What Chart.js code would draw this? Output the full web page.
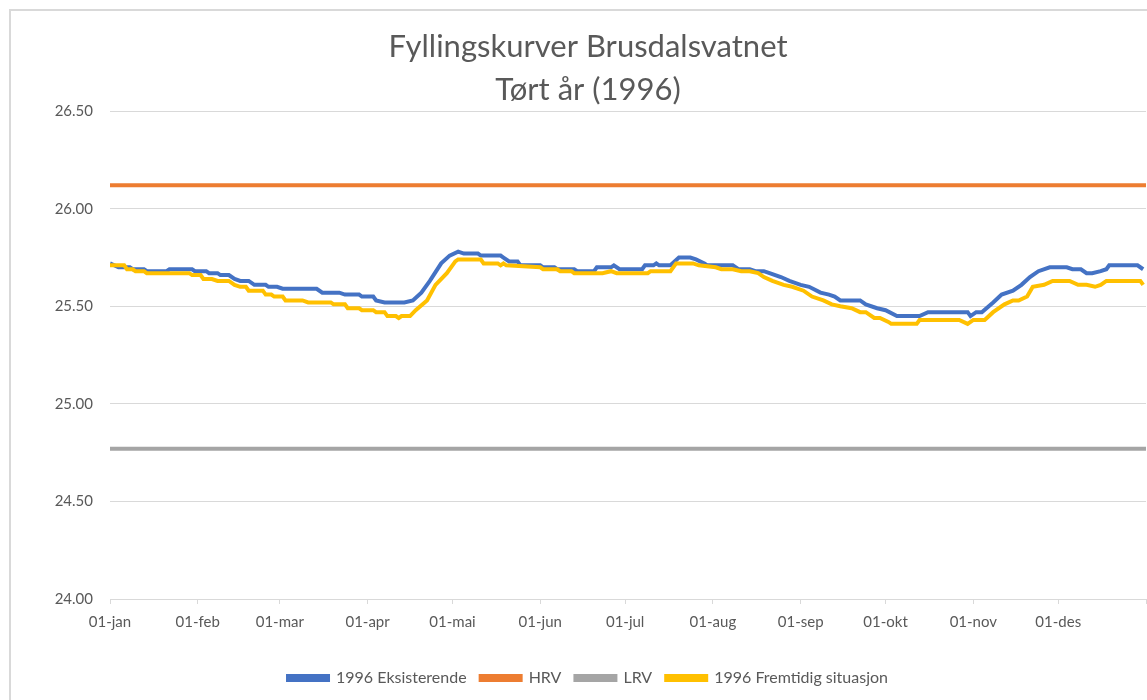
<!DOCTYPE html>
<html>
<head>
<meta charset="utf-8">
<script src="https://cdn.jsdelivr.net/npm/chart.js@4.4.1/dist/chart.umd.min.js"></script>
<style>
  html, body { margin: 0; padding: 0; background: #fff; overflow: hidden; }
  #frame { position: absolute; left: 9px; top: 9px; width: 1200px; height: 800px; border: 2px solid #d9d9d9; }
  #wrap { position: absolute; left: 0; top: 0; width: 1170px; height: 700px; }
</style>
</head>
<body>
<div id="frame"></div>
<div id="wrap"><canvas id="fyllingChart"></canvas></div>
<script>
// x axis: day of year 1996 (leap year), ticks at first of each month
const monthLabels = ['01-jan', '01-feb', '01-mar', '01-apr', '01-mai', '01-jun', '01-jul', '01-aug', '01-sep', '01-okt', '01-nov', '01-des', ''];
const monthStartDays = [0, 31, 60, 91, 121, 152, 182, 213, 244, 274, 305, 335, 366];

// 1996 Eksisterende
const eksDays = [0, 3, 7, 8, 12, 13, 20, 21, 29, 30, 34, 35, 38, 39, 42, 44, 46, 49, 51, 55, 56, 59, 61, 73, 75, 81, 83, 88, 89, 93,
  94, 97, 104, 107, 110, 113, 117, 120, 123, 125, 130, 131, 138, 139, 141, 144, 145, 152, 153, 157, 158, 164, 165, 171, 172, 177, 178, 180, 188, 189,
  192, 193, 194, 198, 201, 205, 207, 210, 211, 220, 222, 226, 228, 231, 233, 237, 240, 244, 247, 251, 254, 256, 258, 265, 267, 271, 274, 278, 286, 289,
  303, 304, 306, 308, 312, 315, 319, 322, 325, 328, 332, 338, 340, 343, 345, 347, 350, 352, 353, 363, 365];
const eksLevels = [25.72, 25.70, 25.70, 25.69, 25.69, 25.68, 25.68, 25.69, 25.69, 25.68, 25.68, 25.67, 25.67, 25.66, 25.66, 25.64, 25.63, 25.63, 25.61, 25.61, 25.60, 25.60, 25.59, 25.59, 25.57, 25.57, 25.56, 25.56, 25.55, 25.55,
  25.53, 25.52, 25.52, 25.53, 25.57, 25.63, 25.72, 25.76, 25.78, 25.77, 25.77, 25.76, 25.76, 25.75, 25.73, 25.73, 25.71, 25.71, 25.70, 25.70, 25.69, 25.69, 25.68, 25.68, 25.70, 25.70, 25.71, 25.69, 25.69, 25.71,
  25.71, 25.72, 25.71, 25.71, 25.75, 25.75, 25.74, 25.72, 25.71, 25.71, 25.69, 25.69, 25.68, 25.68, 25.67, 25.65, 25.63, 25.61, 25.60, 25.57, 25.56, 25.55, 25.53, 25.53, 25.51, 25.49, 25.48, 25.45, 25.45, 25.47,
  25.47, 25.45, 25.47, 25.47, 25.52, 25.56, 25.58, 25.61, 25.65, 25.68, 25.70, 25.70, 25.69, 25.69, 25.67, 25.67, 25.68, 25.69, 25.71, 25.71, 25.69];

// 1996 Fremtidig situasjon
const fremDays = [0, 5, 6, 8, 9, 12, 13, 28, 29, 32, 33, 36, 38, 42, 44, 46, 48, 49, 54, 55, 57, 58, 61, 62, 68, 70, 78, 79, 83, 84,
  88, 89, 93, 94, 97, 98, 101, 102, 103, 106, 108, 112, 115, 119, 122, 123, 131, 132, 137, 138, 139, 140, 152, 153, 158, 159, 163, 164, 174, 177,
  179, 190, 191, 198, 200, 206, 208, 214, 216, 220, 223, 226, 229, 231, 234, 238, 241, 245, 248, 252, 255, 258, 262, 265, 267, 270, 272, 275, 276, 285,
  286, 300, 303, 305, 309, 312, 316, 319, 321, 324, 326, 330, 333, 339, 342, 345, 348, 350, 352, 364, 365];
const fremLevels = [25.71, 25.71, 25.69, 25.69, 25.68, 25.68, 25.67, 25.67, 25.66, 25.66, 25.64, 25.64, 25.63, 25.63, 25.61, 25.60, 25.60, 25.58, 25.58, 25.56, 25.56, 25.55, 25.55, 25.53, 25.53, 25.52, 25.52, 25.51, 25.51, 25.49,
  25.49, 25.48, 25.48, 25.47, 25.47, 25.45, 25.45, 25.44, 25.45, 25.45, 25.48, 25.53, 25.61, 25.67, 25.73, 25.74, 25.74, 25.72, 25.72, 25.71, 25.72, 25.71, 25.70, 25.69, 25.69, 25.68, 25.68, 25.67, 25.67, 25.68,
  25.67, 25.67, 25.68, 25.68, 25.72, 25.72, 25.71, 25.70, 25.69, 25.69, 25.68, 25.68, 25.67, 25.65, 25.63, 25.61, 25.60, 25.58, 25.55, 25.53, 25.51, 25.50, 25.49, 25.47, 25.47, 25.44, 25.44, 25.42, 25.41, 25.41,
  25.43, 25.43, 25.41, 25.43, 25.43, 25.47, 25.51, 25.53, 25.53, 25.55, 25.60, 25.61, 25.63, 25.63, 25.61, 25.61, 25.60, 25.61, 25.63, 25.63, 25.61];

// regulation limits
const hrvLevel = 26.12;
const lrvLevel = 24.77;

const toPoints = (days, levels) => days.map((d, i) => ({ x: d, y: levels[i] }));
const flatLine = (level) => [{ x: 0, y: level }, { x: 366, y: level }];

const textGrey = '#595959';
const gridGrey = '#d9d9d9';

const ctx = document.getElementById('fyllingChart').getContext('2d');
new Chart(ctx, {
  type: 'line',
  data: {
    datasets: [
      { label: '1996 Eksisterende', data: toPoints(eksDays, eksLevels), borderColor: '#4472C4', backgroundColor: '#4472C4', order: 2 },
      { label: 'HRV', data: flatLine(hrvLevel), borderColor: '#ED7D31', backgroundColor: '#ED7D31', order: 4 },
      { label: 'LRV', data: flatLine(lrvLevel), borderColor: '#A5A5A5', backgroundColor: '#A5A5A5', order: 3 },
      { label: '1996 Fremtidig situasjon', data: toPoints(fremDays, fremLevels), borderColor: '#FFC000', backgroundColor: '#FFC000', order: 1 }
    ]
  },
  options: {
    responsive: true,
    maintainAspectRatio: false,
    animation: false,
    elements: {
      point: { radius: 0 },
      line: { borderWidth: 4, tension: 0 }
    },
    layout: { padding: { left: 30, right: 24, top: 0, bottom: 4 } },
    plugins: {
      title: {
        display: true,
        text: ['Fyllingskurver Brusdalsvatnet', 'Tørt år (1996)'],
        color: textGrey,
        font: { family: 'Lato', size: 31, weight: 'normal', lineHeight: 1.39 },
        padding: { top: 25, bottom: 0 }
      },
      legend: {
        position: 'bottom',
        labels: {
          color: textGrey,
          font: { family: 'Lato', size: 16 },
          boxWidth: 40,
          boxHeight: 4,
          padding: 14,
          sort: (a, b) => a.datasetIndex - b.datasetIndex
        }
      },
      tooltip: { enabled: false }
    },
    scales: {
      x: {
        type: 'linear',
        min: 0,
        max: 366,
        afterBuildTicks: (scale) => { scale.ticks = monthStartDays.map(v => ({ value: v })); },
        afterFit: (scale) => { scale.height = 57; },
        ticks: {
          color: textGrey,
          font: { family: 'Lato', size: 15 },
          padding: 9,
          maxRotation: 0,
          autoSkip: false,
          callback: (value) => monthLabels[monthStartDays.indexOf(value)]
        },
        grid: { drawOnChartArea: false, color: gridGrey, tickLength: 5 },
        border: { color: gridGrey, width: 1 }
      },
      y: {
        min: 24,
        max: 26.5,
        afterFit: (scale) => { scale.width = 80; },
        ticks: {
          stepSize: 0.5,
          color: textGrey,
          font: { family: 'Lato', size: 15 },
          padding: 17,
          callback: (value) => value.toFixed(2)
        },
        grid: { color: gridGrey, drawTicks: false },
        border: { display: false }
      }
    }
  }
});
</script>
</body>
</html>
